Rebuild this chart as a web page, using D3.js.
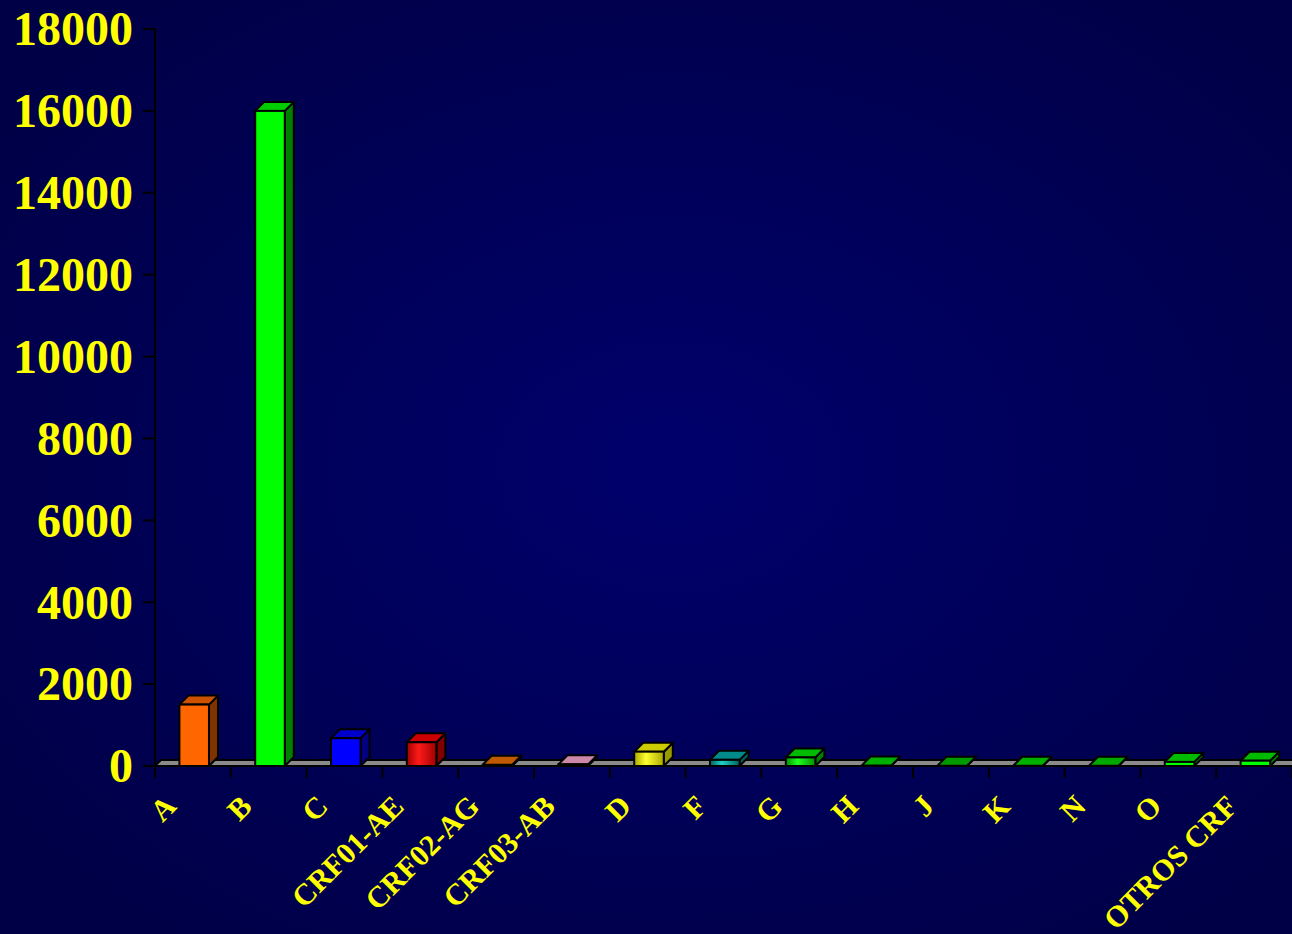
<!DOCTYPE html>
<html><head><meta charset="utf-8">
<script src="https://cdn.jsdelivr.net/npm/d3@7"></script>
<style>html,body{margin:0;padding:0;background:#000050;}svg{display:block;}</style>
</head><body>
<script>
const categories = ["A","B","C","CRF01-AE","CRF02-AG","CRF03-AB","D","F","G","H","J","K","N","O","OTROS CRF"];
const values = [1500,16000,680,580,30,40,350,150,210,10,5,5,5,100,130];
const yTickValues = [0,2000,4000,6000,8000,10000,12000,14000,16000,18000];

// styles (front, side, top, gradient?)
const frontColors = ["#ff6600","#00ff00","#0000ff","grad-red","#cc6600","#cc88aa","grad-yellow","grad-teal","grad-green","#00aa00","#009900","#00aa00","#00aa00","#00ff00","#00ff00"];
const sideColors  = ["#803300","#008000","#000080","#800000","#803300","#805060","#999900","#006060","#008000","#007000","#007000","#007000","#007000","#008800","#008800"];
const topColors   = ["#cc5200","#00cc00","#0000cc","#cc0000","#c05a00","#cc88aa","#cccc00","#008a8a","#00bb00","#00b000","#009a00","#00b000","#00a800","#00bb00","#00bb00"];

const W = 1292, H = 934;
const svg = d3.select("body").append("svg").attr("width", W).attr("height", H);
const defs = svg.append("defs");
const bg = defs.append("radialGradient").attr("id","bg").attr("cx","52%").attr("cy","50%").attr("r","65%");
bg.append("stop").attr("offset","0%").attr("stop-color","#00006c");
bg.append("stop").attr("offset","100%").attr("stop-color","#000046");
function lg(id, edge, mid){
  const g = defs.append("linearGradient").attr("id",id).attr("x1","0%").attr("x2","100%").attr("y1","0").attr("y2","0");
  g.append("stop").attr("offset","0%").attr("stop-color",edge);
  g.append("stop").attr("offset","40%").attr("stop-color",mid);
  g.append("stop").attr("offset","100%").attr("stop-color",edge);
}
lg("grad-red","#a00000","#ff1a1a");
lg("grad-yellow","#a8a800","#ffff30");
lg("grad-teal","#006060","#20d0c8");
lg("grad-green","#009000","#20ff20");

svg.append("rect").attr("width",W).attr("height",H).attr("fill","url(#bg)");

const x = d3.scaleBand().domain(categories).range([155, 1292]).padding(0);
const y = d3.scaleLinear().domain([0,18000]).range([766, 29]);
const bw = x.bandwidth();
const frontOff = bw*0.322, frontW = bw*0.39;
const ddx = 9, ddy = 9;
const fdx = 6, fdy = 6;
const y0 = y(0);

// floor
svg.append("path")
  .attr("d", `M155,${y0} L${155+fdx},${y0-fdy} L${W+20},${y0-fdy} L${W+20},${y0} Z`)
  .attr("fill","#8a8a8a").attr("stroke","#000").attr("stroke-width",2);

const fillOf = c => c.startsWith("grad") ? `url(#${c})` : c;

const bars = svg.append("g").selectAll("g").data(categories).join("g");
bars.each(function(c, i){
  const g = d3.select(this);
  const xl = x(c) + frontOff, xr = xl + frontW;
  const yt = y(values[i]);
  g.append("path").attr("d", `M${xr},${y0} L${xr+ddx},${y0-ddy} L${xr+ddx},${yt-ddy} L${xr},${yt} Z`)
    .attr("fill", sideColors[i]).attr("stroke","#000").attr("stroke-width",2).attr("stroke-linejoin","round");
  g.append("path").attr("d", `M${xl},${yt} L${xl+ddx},${yt-ddy} L${xr+ddx},${yt-ddy} L${xr},${yt} Z`)
    .attr("fill", topColors[i]).attr("stroke","#000").attr("stroke-width",2).attr("stroke-linejoin","round");
  if (y0 - yt > 1.5) {
    g.append("rect").attr("x", xl).attr("y", yt).attr("width", frontW).attr("height", y0 - yt)
      .attr("fill", fillOf(frontColors[i])).attr("stroke","#000").attr("stroke-width",2);
  }
});

// axes lines
svg.append("line").attr("x1",155).attr("x2",155).attr("y1",y(18000)).attr("y2",y0)
  .attr("stroke","#000").attr("stroke-width",2);
svg.append("line").attr("x1",155).attr("x2",W).attr("y1",y0).attr("y2",y0)
  .attr("stroke","#000").attr("stroke-width",2);

// y ticks & labels
const yg = svg.append("g");
yg.selectAll("line").data(yTickValues).join("line")
  .attr("x1",143).attr("x2",155).attr("y1",d=>y(d)).attr("y2",d=>y(d))
  .attr("stroke","#000").attr("stroke-width",2);
yg.selectAll("text").data(yTickValues).join("text")
  .attr("x",133).attr("y",d=>y(d)).attr("dy","0.34em")
  .attr("text-anchor","end")
  .attr("font-family","'Liberation Serif','Times New Roman',serif")
  .attr("font-weight","bold").attr("font-size",48).attr("fill","#ffff00")
  .text(d=>d);

// x ticks
const xTickPos = categories.map(c => x(c)).concat([W]);
svg.append("g").selectAll("line").data(xTickPos).join("line")
  .attr("x1",d=>d).attr("x2",d=>d).attr("y1",y0).attr("y2",y0+12)
  .attr("stroke","#000").attr("stroke-width",2);

// x labels
svg.append("g").selectAll("text").data(categories).join("text")
  .attr("transform", c => `translate(${x(c)+bw/2-15},${y0+42}) rotate(-45)`)
  .attr("text-anchor","end")
  .attr("font-family","'Liberation Serif','Times New Roman',serif")
  .attr("font-weight","bold").attr("font-size",30).attr("fill","#ffff00")
  .text(c=>c);
</script>
</body></html>
